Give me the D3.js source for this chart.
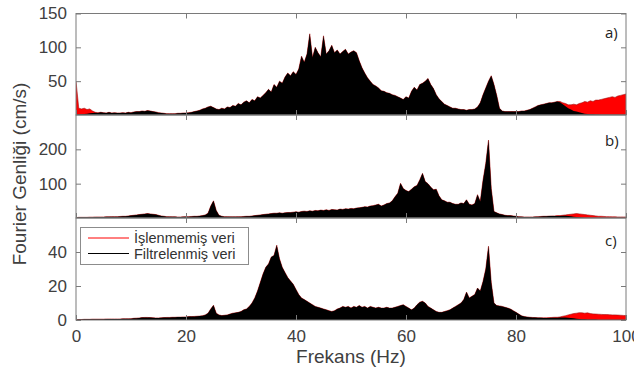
<!DOCTYPE html>
<html>
<head>
<meta charset="utf-8">
<script src="https://cdn.jsdelivr.net/npm/d3@7"></script>
<style>
  body { margin: 0; background: #fff; }
  svg { display: block; }
</style>
</head>
<body>
<svg id="chart" width="634" height="374"></svg>
<script>
// spectrum amplitudes, one value every 0.5 Hz (0..100 Hz)
const freqStep = 0.5;
const xTicks = [0, 20, 40, 60, 80, 100];

// a) filtered
const filteredA = [
  0,1,1,1.5,2,2.5,3,3.5,3,4, 3.5,3,4,3,3.5,3,3,3.5,3,4,
  3.5,4.5,5,5,6,5.5,6.5,6,5,4.5, 3.5,3,2.5,2,2,2,2,2.5,2.5,3,
  3,3.5,4,5,6,7,9,10,12,13, 11,9,8,10,9,12,11,14,13,17,
  15,19,21,18,23,21,27,25,29,33, 38,34,45,41,50,47,56,62,58,64,
  60,68,87,78,90,120,85,100,92,86, 117,90,95,103,92,96,90,94,97,90,
  93,95,92,80,70,62,55,50,45,43, 40,36,35,33,32,30,29,27,25,23,
  27,25,35,41,37,45,47,50,54,45, 39,30,24,20,16,14,12,10,10,9,
  8,8,7,8,8,9,12,18,30,40, 50,58,45,29,10,6,5,5,5,5,
  5,5,6,6,7,8,10,12,14,15, 16,17,18,18,19,20,19,16,13,10,
  8,6,5,4,3,2,1.5,1,1,0.8, 0.6,0.5,0.5,0.4,0.4,0.3,0.3,0.3,0.2,0.2,
  0.2
];
// b) filtered
const filteredB = [
  1,2,2,2,2,2.5,2.5,3,3,3, 3,3.5,3.5,4,4,4,4.5,5,5,6,
  7,8,9,10,11,12,13,12,11,10, 8,6,5,4,4,3.5,3.5,3,3,3.5,
  4,4,4.5,5,5,6,7,9,14,35, 50,22,8,5,4,4,3.5,3.5,3.5,4,
  4,4.5,5,5,6,7,8,9,10,11, 12,13,14,14,15,14,15,16,16,17,
  18,17,19,20,19,21,20,22,21,23, 22,24,22,25,24,23,26,25,27,26,
  28,27,29,30,31,33,32,35,36,38, 40,35,38,42,44,50,62,72,101,86,
  80,77,84,91,95,111,130,106,100,90, 82,84,65,53,50,46,46,42,40,40,
  44,42,53,40,38,42,68,48,110,159, 227,86,19,15,12,10,8,7,7,6,
  5,4,3.5,3,3,3,3,3.5,4,4.5, 5,5,5.5,6,6,6,6,6.5,6.5,6,
  5,4,3,2,1.5,1,1,1,0.8,0.8, 0.7,0.7,0.6,0.6,0.5,0.5,0.5,0.5,0.4,0.4,
  0.4
];
// c) filtered
const filteredC = [
  0.2,0.3,0.3,0.4,0.4,0.4,0.5,0.5,0.5,0.5, 0.5,0.6,0.6,0.6,0.6,0.6,0.6,0.7,0.7,0.7,
  0.8,1,1.1,1.2,1.4,1.5,1.5,1.4,1.3,1.2, 1.2,1.3,1.4,1.5,1.5,1.6,1.6,1.7,1.7,1.8,
  1.8,2,2,2.1,2.2,2.3,2.5,3,4,6.5, 8.7,4,3,2.6,2.8,3,3.5,4,4.2,4.5,
  5,6,6.5,8,10,13,17,22,27,31, 33,37,38,44,36,31,28,25,23,21,
  18,15,13,12,11,10,9,8,7.5,7, 6.5,6,5.5,5,5.5,6.5,7,8,7.5,8,
  7,8,7.5,8.5,7.5,8,7,8,7.5,7, 7.5,7,7,7.5,7,7,7.5,8,8.5,9,
  8,7,6,7,9,10.5,11,10,8,7, 6,5,4.5,4.5,5,5.5,6,7,8,9,
  10,12,16.4,13,14,15,18.8,17,22.7,30, 43.4,22,10,8.5,8.3,8,7.5,7,6.5,5.5,
  4.5,3.5,2.5,2,1.8,1.6,1.5,1.4,1.3,1.3, 1.2,1.2,1.2,1.3,1.3,1.3,1.4,1.4,1.4,1.3,
  1.2,1,0.8,0.6,0.5,0.4,0.3,0.3,0.3,0.3, 0.2,0.2,0.2,0.2,0.2,0.2,0.2,0.2,0.2,0.2,
  0.2
];

// raw (unprocessed) data where it differs from the filtered one
const rawHeadA = [50,10,9,10,8,9,6,4,3.5];            // from 0 Hz
const rawTailStart = 84;                               // tails start at 84 Hz
const rawTailA = [14,15,16,17,18,18,19,20,20,18,17,15,15,16,15,17,18,20,19,21,20,22,22,23,24,25,26,27,26,28,29,30,31];
const rawTailB = [4,4.5,5,5,5.5,6,6,7,7,8,9,10,11,12,13,12,11,10,9,8,7,6,5,5,4.5,4,4,3.5,3.5,3,3,3,3];
const rawTailC = [1.3,1.3,1.3,1.3,1.4,1.5,1.6,1.6,1.8,2.2,2.5,3,3.4,3.8,4,4.3,4.2,4,4.2,3.8,3.6,3.5,3.4,3.3,3.2,3.2,3.1,3,3,2.9,2.8,2.7,2.6];

const yTicksA = [50, 100, 150];
const yTicksB = [100, 200];
const yTicksC = [0, 20, 40];

const legendLabels = ["İşlenmemiş veri", "Filtrelenmiş veri"];
const legendColors = ["#ff0000", "#000000"];

const FONT = "'Liberation Sans', Arial, Helvetica, sans-serif";
const AXIS = "#7a7a7a";
const TEXT = "#404040";

const svg = d3.select("#chart");
const x = d3.scaleLinear().domain([0, 100]).range([76, 626]);

function rawSeries(filtered, head, tail) {
    return filtered.map(function(v, i) {
        if (head && i < head.length) return head[i];
        var j = Math.round((i * freqStep - rawTailStart) / freqStep);
        if (tail && j >= 0 && j < tail.length) return tail[j];
        return v;
    });
}

const panels = [
    {name: "a", label: "a)", filtered: filteredA, raw: rawSeries(filteredA, rawHeadA, rawTailA), yMax: 150, ticks: yTicksA, top: 13.5, bottom: 115, labelY: 38},
    {name: "b", label: "b)", filtered: filteredB, raw: rawSeries(filteredB, null, rawTailB), yMax: 300, ticks: yTicksB, top: 115, bottom: 218, labelY: 146},
    {name: "c", label: "c)", filtered: filteredC, raw: rawSeries(filteredC, null, rawTailC), yMax: 60, ticks: yTicksC, top: 218, bottom: 320, labelY: 246}
];

panels.forEach(function(p, k) {
    var y = d3.scaleLinear().domain([0, p.yMax]).range([p.bottom, p.top]);
    var g = svg.append("g").attr("class", "panel-" + p.name);

    g.append("clipPath").attr("id", "clip-" + p.name)
        .append("rect")
        .attr("x", x(0)).attr("y", p.top)
        .attr("width", x(100) - x(0)).attr("height", p.bottom - p.top);

    var data = g.append("g").attr("clip-path", "url(#clip-" + p.name + ")");
    var fx = function(d, i) { return x(i * freqStep); };
    var area = d3.area().x(fx).y0(y(0)).y1(function(d) { return y(d); });
    var line = d3.line().x(fx).y(function(d) { return y(d); });

    // raw first, filtered on top
    data.append("path").datum(p.raw).attr("d", area).attr("fill", "#ff0000");
    data.append("path").datum(p.raw).attr("d", line)
        .attr("fill", "none").attr("stroke", "#a01010").attr("stroke-width", 1).attr("stroke-opacity", 0.6);
    data.append("path").datum(p.filtered).attr("d", area).attr("fill", "#000");

    // inward ticks, left with labels
    var left = d3.axisLeft(y).tickValues(p.ticks).tickSizeInner(-5).tickSizeOuter(0).tickPadding(9);
    var gl = g.append("g").attr("transform", "translate(" + x(0) + ",0)").call(left);
    gl.select(".domain").remove();
    gl.selectAll("line").attr("stroke", AXIS);
    gl.selectAll("text").attr("fill", TEXT).style("font", "17px " + FONT);

    var right = d3.axisRight(y).tickValues(p.ticks).tickSizeInner(-5).tickSizeOuter(0).tickFormat("");
    var gr = g.append("g").attr("transform", "translate(" + x(100) + ",0)").call(right);
    gr.select(".domain").remove();
    gr.selectAll("line").attr("stroke", AXIS);

    var top = d3.axisTop(x).tickValues(xTicks.slice(1, -1)).tickSizeInner(-5).tickSizeOuter(0).tickFormat("");
    var gt = g.append("g").attr("transform", "translate(0," + p.top + ")").call(top);
    gt.select(".domain").remove();
    gt.selectAll("line").attr("stroke", AXIS);

    var bottom = d3.axisBottom(x).tickValues(xTicks).tickSizeInner(-5).tickSizeOuter(0).tickPadding(10);
    if (k < panels.length - 1) bottom.tickFormat("");
    var gb = g.append("g").attr("transform", "translate(0," + p.bottom + ")").call(bottom);
    gb.select(".domain").remove();
    gb.selectAll("line").attr("stroke", AXIS);
    gb.selectAll("text").attr("fill", TEXT).style("font", "17px " + FONT);

    // frame
    g.append("rect")
        .attr("x", x(0)).attr("y", p.top)
        .attr("width", x(100) - x(0)).attr("height", p.bottom - p.top)
        .attr("fill", "none").attr("stroke", AXIS).attr("stroke-width", 1);

    g.append("text")
        .attr("x", 605).attr("y", p.labelY)
        .attr("fill", "#222")
        .style("font", "15px 'Open Sans', sans-serif")
        .text(p.label);
});

// legend
var lg = svg.append("g").attr("class", "legend");
lg.append("rect")
    .attr("x", 80.5).attr("y", 227.5).attr("width", 168).attr("height", 37)
    .attr("fill", "#fff").attr("stroke", "#8c8c8c");
legendLabels.forEach(function(t, i) {
    var yy = 238 + i * 15.5;
    lg.append("line").attr("x1", 88).attr("x2", 129).attr("y1", yy).attr("y2", yy)
        .attr("stroke", legendColors[i]).attr("stroke-width", 1);
    lg.append("text").attr("x", 134).attr("y", yy + 5)
        .attr("fill", "#333").style("font", "14.5px " + FONT).text(t);
});

// axis titles
svg.append("text")
    .attr("x", (x(0) + x(100)) / 2).attr("y", 363)
    .attr("text-anchor", "middle").attr("fill", TEXT)
    .style("font", "19px " + FONT)
    .text("Frekans (Hz)");
svg.append("text")
    .attr("transform", "translate(26,174) rotate(-90)")
    .attr("text-anchor", "middle").attr("fill", TEXT)
    .style("font", "19px " + FONT)
    .text("Fourier Genliği (cm/s)");
</script>
</body>
</html>
